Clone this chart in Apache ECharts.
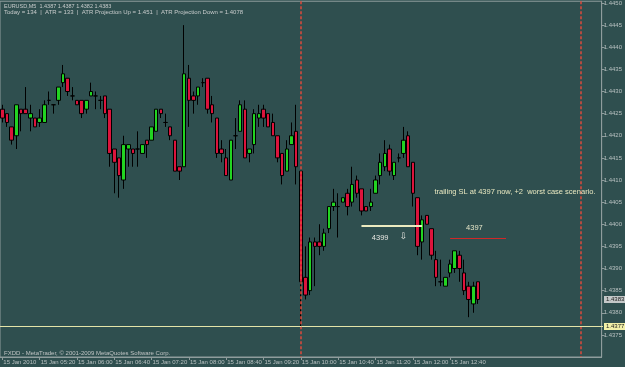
<!DOCTYPE html>
<html><head><meta charset="utf-8">
<script src="https://cdn.jsdelivr.net/npm/echarts/dist/echarts.min.js"></script>
<style>html,body{margin:0;padding:0;background:#2f4f4f;}#c{width:625px;height:367px;}</style>
</head><body><div id="c"></div>
<script>
// EURUSD M5, 15 Jan 2010, bars from 04:40 to 13:10
const open  = [1.4426,1.4425,1.4422,1.4420,1.4426,1.4426,1.4424,1.4424,1.4423,1.4423,
               1.4428,1.4427,1.4428,1.4432,1.4433,1.4429,1.4428,1.4428,1.4426,1.4429,
               1.4429,1.4428,1.4429,1.4426,1.4417,1.4415,1.4410,1.4417,1.4417,1.4417,
               1.4416,1.4419,1.4419,1.4421,1.4426,1.4423,1.4422,1.4419,1.4413,1.4413,
               1.4433,1.4429,1.4429,1.4432,1.4433,1.4427,1.4424,1.4417,1.4415,1.4410,
               1.4420,1.4421,1.4426,1.4416,1.4418,1.4424,1.4426,1.4425,1.4423,1.4420,
               1.4416,1.4412,1.4418,1.4421,1.4412,1.4388,1.4385,1.4396,1.4396,1.4395,
               1.4399,1.4404,1.4404,1.4405,1.4407,1.4405,1.4410,1.4408,1.4404,1.4404,
               1.4407,1.4411,1.4413,1.4417,1.4411,1.4415,1.4416,1.4420,1.4414,1.4406,
               1.4396,1.4402,1.4399,1.4392,1.4387,1.4386,1.4389,1.4390,1.4393,1.4389,
               1.4386,1.4382,1.4387];
const high  = [1.4427,1.4425,1.4422,1.4427,1.4426,1.4431,1.4427,1.4424,1.4426,1.4428,
               1.4430,1.4427,1.4431,1.4436,1.4433,1.4431,1.4428,1.4428,1.4428,1.4432,
               1.4430,1.4429,1.4429,1.4426,1.4417,1.4415,1.4420,1.4418,1.4417,1.4421,
               1.4418,1.4419,1.4422,1.4426,1.4426,1.4425,1.4422,1.4419,1.4413,1.4445,
               1.4436,1.4430,1.4431,1.4433,1.4433,1.4429,1.4424,1.4419,1.4417,1.4419,
               1.4424,1.4428,1.4428,1.4417,1.4426,1.4427,1.4427,1.4425,1.4425,1.4420,
               1.4416,1.4419,1.4423,1.4427,1.4412,1.4395,1.4397,1.4397,1.4400,1.4399,
               1.4404,1.4408,1.4407,1.4406,1.4408,1.4413,1.4411,1.4408,1.4404,1.4408,
               1.4411,1.4416,1.4419,1.4418,1.4414,1.4416,1.4422,1.4421,1.4414,1.4406,
               1.4402,1.4402,1.4399,1.4394,1.4392,1.4388,1.4392,1.4394,1.4394,1.4392,
               1.4387,1.4387,1.4387];
const low   = [1.4423,1.4422,1.4418,1.4417,1.4421,1.4425,1.4421,1.4422,1.4422,1.4423,
               1.4427,1.4425,1.4427,1.4431,1.4429,1.4428,1.4427,1.4424,1.4425,1.4429,
               1.4426,1.4426,1.4424,1.4413,1.4407,1.4406,1.4408,1.4413,1.4413,1.4413,
               1.4416,1.4415,1.4419,1.4421,1.4424,1.4422,1.4419,1.4412,1.4410,1.4413,
               1.4422,1.4425,1.4427,1.4431,1.4425,1.4423,1.4415,1.4414,1.4411,1.4410,
               1.4417,1.4421,1.4415,1.4414,1.4416,1.4422,1.4422,1.4422,1.4420,1.4414,
               1.4409,1.4412,1.4418,1.4409,1.4377,1.4383,1.4384,1.4386,1.4393,1.4394,
               1.4398,1.4403,1.4397,1.4405,1.4402,1.4404,1.4406,1.4402,1.4403,1.4403,
               1.4407,1.4409,1.4412,1.4411,1.4410,1.4414,1.4415,1.4413,1.4404,1.4393,
               1.4392,1.4400,1.4392,1.4386,1.4386,1.4386,1.4388,1.4389,1.4387,1.4384,
               1.4379,1.4380,1.4382];
const close = [1.4424,1.4423,1.4419,1.4427,1.4425,1.4425,1.4425,1.4422,1.4424,1.4427,
               1.4428,1.4427,1.4431,1.4434,1.4430,1.4429,1.4427,1.4425,1.4428,1.4430,
               1.4429,1.4428,1.4425,1.4416,1.4414,1.4411,1.4418,1.4418,1.4416,1.4417,
               1.4418,1.4418,1.4422,1.4426,1.4425,1.4423,1.4420,1.4412,1.4412,1.4434,
               1.4428,1.4428,1.4431,1.4432,1.4426,1.4425,1.4416,1.4416,1.4411,1.4419,
               1.4420,1.4427,1.4415,1.4417,1.4425,1.4425,1.4424,1.4422,1.4420,1.4415,
               1.4411,1.4417,1.4420,1.4413,1.4387,1.4384,1.4396,1.4395,1.4395,1.4398,
               1.4404,1.4405,1.4404,1.4406,1.4404,1.4409,1.4407,1.4403,1.4403,1.4405,
               1.4410,1.4414,1.4416,1.4412,1.4414,1.4415,1.4419,1.4413,1.4407,1.4395,
               1.4401,1.4400,1.4393,1.4388,1.4387,1.4388,1.4391,1.4394,1.4390,1.4385,
               1.4383,1.4386,1.4383];
const xTickLabels = ['15 Jan 2010','15 Jan 05:20','15 Jan 06:00','15 Jan 06:40','15 Jan 07:20',
  '15 Jan 08:00','15 Jan 08:40','15 Jan 09:20','15 Jan 10:00','15 Jan 10:40','15 Jan 11:20',
  '15 Jan 12:00','15 Jan 12:40'];
const headerLine1 = 'EURUSD,M5  1.4387 1.4387 1.4382 1.4383';
const headerLine2 = 'Today = 134  |  ATR = 133  |  ATR Projection Up = 1.451  |  ATR Projection Down = 1.4078';
const footerText = 'FXDD - MetaTrader, \u00a9 2001-2009 MetaQuotes Software Corp.';
const noteText = 'trailing SL at 4397 now, +2  worst case scenario.';
// price levels / objects on the chart
const lowLevel = 1.4377;      // horizontal line (news-bar low)
const bidLevel = 1.4383;      // current price label
const slLine = {from:77, to:90, price:1.43995, label:'4399'};
const redLine = {from:96, to:108, price:1.4397, label:'4397'};
const separators = [64, 124];

const START_MIN = 4*60+40, SLOTS = 129;
const categories = [];
for (let i = 0; i < SLOTS; i++) {
  const m = START_MIN + 5*i;
  categories.push(String(Math.floor(m/60)).padStart(2,'0') + ':' + String(m%60).padStart(2,'0'));
}
const candles = open.map((o,i) => [o, close[i], low[i], high[i]]);

const FONT = '"Liberation Sans", Arial, sans-serif';
const AX = '#8f9d9d', TXT = '#b8c0c0';
const Y_MIN = 1.4370, Y_MAX = 1.44504;
const showX = (idx) => idx % 8 === 0 && idx/8 < xTickLabels.length;

const chart = echarts.init(document.getElementById('c'), null, {renderer:'canvas'});
chart.setOption({
  backgroundColor:'#2f4f4f',
  animation:false,
  grid:{left:0, top:0, width:603, height:357, show:true, borderColor:AX, borderWidth:1, backgroundColor:'transparent'},
  xAxis:{
    type:'category', data:categories, boundaryGap:true,
    axisLine:{lineStyle:{color:AX}},
    axisTick:{show:true, alignWithLabel:true, interval:showX, length:3, lineStyle:{color:AX}},
    axisLabel:{interval:showX, formatter:(v,i)=>xTickLabels[i/8] || '', align:'left', margin:2,
      color:TXT, fontSize:6, fontFamily:FONT, padding:[0,0,0,1]},
    splitLine:{show:false}
  },
  yAxis:{
    type:'value', position:'right', min:Y_MIN, max:Y_MAX, interval:0.0005,
    axisLine:{show:true, lineStyle:{color:AX}},
    axisTick:{show:true, length:3, lineStyle:{color:AX}},
    axisLabel:{formatter:v=>v.toFixed(4), margin:2, color:TXT, fontSize:6, fontFamily:FONT,
      showMinLabel:false, showMaxLabel:false},
    splitLine:{show:false}
  },
  series:[{
    type:'candlestick', data:candles, barWidth:4,
    itemStyle:{color:'#22d422', color0:'#dc143c', borderColor:'#000', borderColor0:'#000', borderColorDoji:'#000', borderWidth:1}
  }]
});

// objects placed through the chart's own scales
const P = (x, y) => chart.convertToPixel({gridIndex:0}, [x, y]);
const yTop = P(0, Y_MAX)[1], yBot = P(0, Y_MIN)[1];
const xLeft = 0, xRight = 603;
const crisp = v => Math.round(v) + 0.5;
const g = [];
separators.forEach(idx => {
  const x = Math.round(P(idx, Y_MIN)[0]);
  g.push({type:'line', silent:true, z:50, shape:{x1:x, y1:yTop, x2:x, y2:yBot},
    style:{stroke:'#e04a3c', lineWidth:1.5, lineDash:[3,2]}});
});
const yLow = crisp(P(0, lowLevel)[1]);
g.push({type:'line', silent:true, z:50, shape:{x1:xLeft, y1:yLow, x2:xRight, y2:yLow},
  style:{stroke:'#e4e4a8', lineWidth:1}});
g.push({type:'text', silent:true, z:60, x:604, y:yLow, style:{text:lowLevel.toFixed(4), fill:'#1a1a1a',
  font:'6px '+FONT, backgroundColor:'#f2f0a8', padding:[1,2,0,2], verticalAlign:'middle'}});
const yBid = P(0, bidLevel)[1];
g.push({type:'text', silent:true, z:60, x:604, y:yBid, style:{text:bidLevel.toFixed(4), fill:'#1a1a1a',
  font:'6px '+FONT, backgroundColor:'#c4c8c8', padding:[1,3,0,2], verticalAlign:'middle'}});
// trailing SL trendline (pale) and red line
const a1 = P(slLine.from, slLine.price), a2 = P(slLine.to, slLine.price);
g.push({type:'line', silent:true, z:50, shape:{x1:a1[0], y1:Math.round(a1[1]), x2:a2[0], y2:Math.round(a1[1])},
  style:{stroke:'#ecebc0', lineWidth:2}});
const b1 = P(redLine.from, redLine.price), b2 = P(redLine.to, redLine.price);
g.push({type:'line', silent:true, z:50, shape:{x1:b1[0], y1:crisp(b1[1]), x2:b2[0], y2:crisp(b1[1])},
  style:{stroke:'#d02828', lineWidth:1}});
// text objects
const t1 = P(79, 1.43968);
g.push({type:'text', silent:true, z:60, x:t1[0]+1, y:t1[1], style:{text:slLine.label, fill:'#e6e6e0', font:'7.5px '+FONT, verticalAlign:'middle'}});
const t2 = P(86, 1.43973);
g.push({type:'text', silent:true, z:60, x:t2[0], y:t2[1], style:{text:'\u21e9', fill:'#e6e6e0', font:'9px "DejaVu Sans"', align:'center', verticalAlign:'middle'}});
const t3 = P(99, 1.43991);
g.push({type:'text', silent:true, z:60, x:t3[0]+2, y:t3[1], style:{text:redLine.label, fill:'#e6e6c8', font:'7.5px '+FONT, verticalAlign:'middle'}});
const t4 = P(92, 1.44072);
g.push({type:'text', silent:true, z:60, x:t4[0]+3, y:t4[1], style:{text:noteText, fill:'#e8e8c0', font:'7.5px '+FONT, verticalAlign:'middle'}});
// header / footer
g.push({type:'text', silent:true, z:60, x:4, y:3, style:{text:headerLine1, fill:'#c8cccc', font:'5.5px '+FONT}});
g.push({type:'text', silent:true, z:60, x:4, y:9, style:{text:headerLine2, fill:'#c8cccc', font:'6px '+FONT}});
g.push({type:'text', silent:true, z:60, x:4, y:350, style:{text:footerText, fill:'#c0c4c4', font:'6px '+FONT}});
chart.setOption({graphic:g});
</script></body></html>
